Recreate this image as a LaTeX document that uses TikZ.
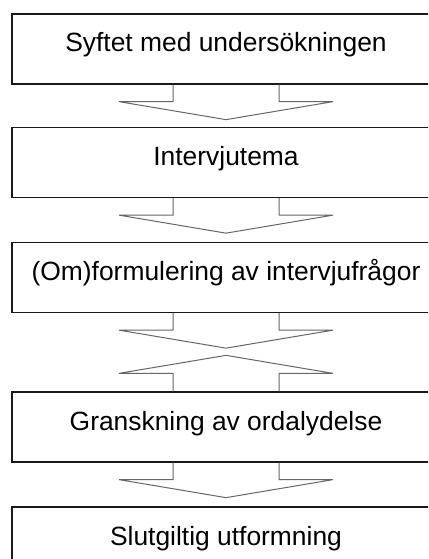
\documentclass[tikz,border=0pt]{standalone}
\usepackage{fontspec}
\setmainfont{Liberation Sans}
\tikzstyle{stage}=[draw=black!90, line width=1.3pt, minimum width=428pt, minimum height=70pt, inner sep=0pt, text height=19pt, text depth=13pt, font=\fontsize{26.4}{30}\selectfont]
\tikzstyle{flow}=[draw=black!60, line width=1pt]
\begin{document}
\begin{tikzpicture}[x=1pt, y=-1pt]

	\useasboundingbox (0,0) rectangle (428,559);
	\clip (0,0) rectangle (428,559);

	\node[stage] (s_1) at (226, 49) {Syftet med undersökningen};
	\node[stage] (s_2) at (226, 162.5) {Intervjutema};
	\node[stage] (s_3) at (226, 277.5) {(Om)formulering av intervjufrågor};
	\node[stage] (s_4) at (226, 427) {Granskning av ordalydelse};
	\node[stage] (s_5) at (226, 542) {Slutgiltig utformning};

	% block arrows pointing down
	\foreach \source in {s_1, s_2, s_3, s_4}{
		\draw[flow] ([xshift=-53pt]\source.south) --++ (0,17) --++ (-54,0) --++ (107,18) --++ (107,-18) --++ (-54,0) --++ (0,-17);
	}

	% block arrow pointing up, back into the third stage
	\draw[flow] ([xshift=-53pt]s_4.north) --++ (0,-18) --++ (-54,0) --++ (107,-18) --++ (107,18) --++ (-54,0) --++ (0,18);

\end{tikzpicture}
\end{document}
